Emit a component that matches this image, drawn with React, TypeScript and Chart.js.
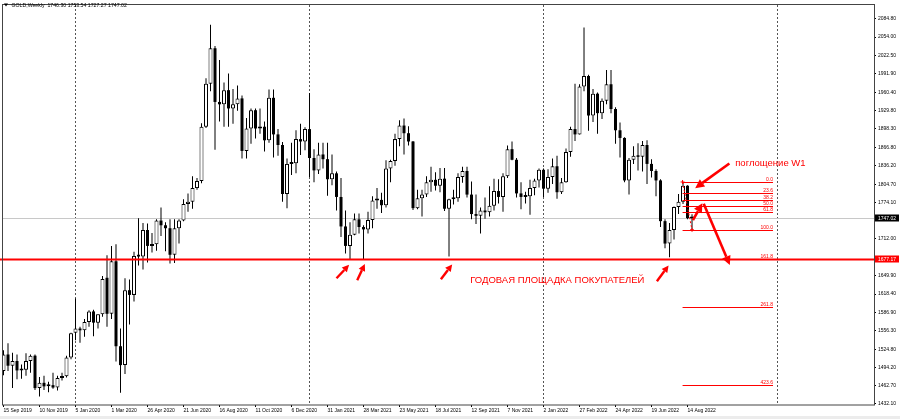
import React, { useEffect, useRef } from "react";
import { Chart, registerables } from "chart.js";

Chart.register(...registerables);

// ---- weekly OHLC, GOLD, from week of 15 Sep 2019 (index 0) to 21 Aug 2022 (index 153)
const opens = [
  1488, 1516, 1497, 1505, 1489, 1490, 1505, 1514, 1459, 1468, 1462, 1464, 1460, 1476, 1479, 1511,
  1553, 1560, 1557, 1571, 1589, 1570, 1584, 1646, 1585, 1674, 1530, 1498, 1625, 1617, 1685, 1682,
  1727, 1700, 1703, 1743, 1735, 1730, 1685, 1730, 1743, 1771, 1775, 1798, 1810, 1902, 1975, 2035,
  1944, 1940, 1964, 1933, 1940, 1950, 1861, 1899, 1930, 1899, 1902, 1879, 1951, 1889, 1871, 1788,
  1839, 1840, 1881, 1877, 1898, 1849, 1828, 1855, 1847, 1813, 1823, 1783, 1733, 1700, 1719, 1745,
  1732, 1728, 1744, 1777, 1778, 1769, 1831, 1844, 1881, 1904, 1891, 1877, 1764, 1781, 1787, 1808,
  1812, 1802, 1814, 1763, 1779, 1781, 1817, 1827, 1787, 1754, 1751, 1760, 1757, 1768, 1793, 1783,
  1818, 1864, 1846, 1789, 1783, 1784, 1798, 1811, 1829, 1797, 1817, 1835, 1791, 1808, 1859, 1898,
  1889, 1970, 1988, 1921, 1958, 1925, 1946, 1974, 1932, 1896, 1883, 1811, 1846, 1853, 1851, 1871,
  1839, 1827, 1811, 1742, 1704, 1727, 1766, 1775, 1802, 1746.3,
];
const highs = [
  1523, 1535, 1519, 1516, 1499, 1518, 1516, 1516, 1478, 1480, 1470, 1485, 1480, 1485, 1514, 1553,
  1611, 1563, 1576, 1591, 1592, 1584, 1649, 1684, 1700, 1703, 1560, 1645, 1643, 1690, 1747, 1739,
  1738, 1722, 1745, 1765, 1740, 1745, 1745, 1745, 1779, 1789, 1818, 1815, 1908, 1984, 2075, 2039,
  2015, 1977, 1992, 1966, 1972, 1955, 1917, 1933, 1933, 1933, 1911, 1965, 1965, 1898, 1876, 1848,
  1875, 1896, 1907, 1901, 1959, 1864, 1875, 1875, 1875, 1855, 1826, 1815, 1760, 1740, 1755, 1755,
  1735, 1758, 1784, 1798, 1790, 1845, 1846, 1890, 1913, 1916, 1903, 1878, 1795, 1795, 1818, 1834,
  1825, 1832, 1832, 1780, 1795, 1823, 1834, 1834, 1809, 1787, 1765, 1782, 1801, 1814, 1813, 1823,
  1870, 1877, 1849, 1808, 1792, 1812, 1814, 1831, 1831, 1830, 1848, 1853, 1815, 1865, 1902, 1975,
  1974, 2070, 1990, 1966, 1960, 1950, 1998, 1998, 1935, 1909, 1884, 1849, 1869, 1874, 1878, 1879,
  1847, 1830, 1813, 1745, 1739, 1767, 1788, 1808.33, 1803, 1753.54,
];
const lows = [
  1481, 1488, 1459, 1474, 1475, 1480, 1485, 1456, 1445, 1456, 1452, 1458, 1455, 1472, 1477, 1508,
  1540, 1536, 1546, 1563, 1547, 1560, 1580, 1563, 1576, 1504, 1451, 1483, 1567, 1606, 1667, 1660,
  1672, 1689, 1692, 1717, 1691, 1670, 1671, 1704, 1742, 1758, 1763, 1795, 1806, 1900, 1962, 1863,
  1911, 1902, 1902, 1907, 1929, 1848, 1848, 1873, 1882, 1890, 1860, 1875, 1850, 1853, 1775, 1764,
  1820, 1823, 1854, 1862, 1817, 1808, 1822, 1831, 1785, 1803, 1760, 1715, 1687, 1676, 1718, 1721,
  1677, 1721, 1730, 1763, 1756, 1765, 1808, 1836, 1869, 1855, 1870, 1761, 1762, 1750, 1783, 1792,
  1794, 1791, 1759, 1682, 1770, 1775, 1807, 1782, 1745, 1737, 1721, 1746, 1750, 1760, 1772, 1758,
  1815, 1845, 1782, 1762, 1772, 1753, 1786, 1799, 1783, 1790, 1805, 1780, 1788, 1807, 1851, 1878,
  1889, 1962, 1895, 1910, 1890, 1915, 1940, 1925, 1873, 1850, 1808, 1787, 1839, 1828, 1826, 1805,
  1816, 1784, 1732, 1696, 1681, 1711, 1754, 1771, 1745, 1727.27,
];
const closes = [
  1516, 1497, 1505, 1489, 1490, 1505, 1514, 1459, 1468, 1462, 1464, 1460, 1476, 1479, 1511, 1552,
  1560, 1557, 1571, 1589, 1570, 1584, 1644, 1585, 1674, 1530, 1498, 1625, 1617, 1683, 1682, 1727,
  1700, 1703, 1743, 1735, 1730, 1685, 1730, 1743, 1771, 1775, 1798, 1810, 1902, 1975, 2035, 1944,
  1940, 1964, 1933, 1940, 1950, 1861, 1899, 1930, 1899, 1902, 1879, 1951, 1889, 1871, 1788, 1839,
  1840, 1881, 1877, 1898, 1849, 1828, 1855, 1847, 1813, 1823, 1783, 1733, 1700, 1719, 1745, 1732,
  1728, 1744, 1777, 1778, 1769, 1831, 1844, 1881, 1904, 1891, 1877, 1764, 1781, 1787, 1808, 1812,
  1802, 1814, 1763, 1779, 1781, 1817, 1827, 1787, 1754, 1751, 1760, 1757, 1768, 1793, 1783, 1818,
  1864, 1846, 1789, 1783, 1784, 1798, 1811, 1829, 1797, 1817, 1835, 1791, 1808, 1859, 1898, 1889,
  1970, 1988, 1921, 1958, 1925, 1946, 1974, 1932, 1896, 1883, 1811, 1846, 1853, 1851, 1871, 1839,
  1827, 1811, 1742, 1704, 1727, 1766, 1775, 1802, 1747, 1747.02,
];

// ---- axis labels
const xTickLabels = [
  "15 Sep 2019", "10 Nov 2019", "5 Jan 2020", "1 Mar 2020", "26 Apr 2020", "21 Jun 2020",
  "16 Aug 2020", "11 Oct 2020", "6 Dec 2020", "31 Jan 2021", "28 Mar 2021", "23 May 2021",
  "18 Jul 2021", "12 Sep 2021", "7 Nov 2021", "2 Jan 2022", "27 Feb 2022", "24 Apr 2022",
  "19 Jun 2022", "14 Aug 2022",
];
const xTickStep = 8; // weeks between date labels
const yTickValues = [
  2084.8, 2054.0, 2022.5, 1991.9, 1960.4, 1929.8, 1898.3, 1866.8, 1836.2, 1804.7, 1774.1,
  1712.0, 1649.9, 1618.4, 1586.9, 1556.3, 1524.8, 1494.2, 1462.7, 1432.1,
];
const yearSeparators = [16, 68, 120, 172]; // first weekly bar of each year

// ---- annotations (in week-index / price coordinates)
const headerText = "GOLD,Weekly  1746.30 1753.54 1727.27 1747.02";
const lastPrice = 1747.02;
const supportPrice = 1677.17;
const fibHigh = 1808.33;
const fibLow = 1727.27;
const fibLevels = [0, 23.6, 38.2, 50, 61.8, 100, 161.8, 261.8, 423.6];
const fibRange = [150.9, 171.0];
const fibAnchors = [[150.9, 1808.33], [153.0, 1727.27]];
const arrowsSmall = [
  [[74.0, 1645.2], [76.8, 1667.9]],
  [[78.6, 1641.9], [80.3, 1669.5]],
  [[97.2, 1643.5], [99.7, 1668.7]],
  [[145.2, 1640.2], [147.8, 1667.0]],
];
const arrowsBig = [
  [[161.3, 1839.8], [153.7, 1797.9]],
  [[153.2, 1743.7], [155.3, 1772.5]],
  [[155.6, 1771.5], [161.4, 1667.5]],
];
const notes = [
  { text: "поглощение W1", at: [162.6, 1839.8] },
  { text: "ГОДОВАЯ ПЛОЩАДКА ПОКУПАТЕЛЕЙ", at: [103.7, 1641.9] },
];

const X_MIN = -1 / 3;
const X_MAX = 193.44;
const Y_MIN = 1430.4;
const Y_MAX = 2108.3;
const FONT = "'Liberation Sans', Arial, sans-serif";
const RED = "#ff0000";

function drawArrow(ctx: CanvasRenderingContext2D, x1: number, y1: number, x2: number, y2: number, head: number, width: number, lw: number) {
  const a = Math.atan2(y2 - y1, x2 - x1);
  const bx = x2 - head * Math.cos(a);
  const by = y2 - head * Math.sin(a);
  ctx.lineWidth = lw;
  ctx.beginPath();
  ctx.moveTo(x1, y1);
  ctx.lineTo(bx, by);
  ctx.stroke();
  ctx.beginPath();
  ctx.moveTo(x2, y2);
  ctx.lineTo(bx + (width / 2) * Math.sin(a), by - (width / 2) * Math.cos(a));
  ctx.lineTo(bx - (width / 2) * Math.sin(a), by + (width / 2) * Math.cos(a));
  ctx.closePath();
  ctx.fill();
}

const overlay = {
  id: "mtOverlay",
  beforeDatasetsDraw(chart: any) {
    const { ctx, chartArea: ca, scales } = chart;
    const x = scales.x, y = scales.y;
    ctx.save();
    ctx.strokeStyle = "#555";
    ctx.lineWidth = 1;
    ctx.setLineDash([2, 2]);
    yearSeparators.forEach((i) => {
      const px = Math.floor(x.getPixelForValue(i)) + 0.5;
      ctx.beginPath();
      ctx.moveTo(px, ca.top);
      ctx.lineTo(px, ca.bottom);
      ctx.stroke();
    });
    ctx.setLineDash([]);
    const py = Math.round(y.getPixelForValue(lastPrice)) + 0.5;
    ctx.strokeStyle = "#c8c8c8";
    ctx.beginPath();
    ctx.moveTo(ca.left, py);
    ctx.lineTo(ca.right, py);
    ctx.stroke();
    ctx.restore();
  },
  afterDatasetsDraw(chart: any) {
    const { ctx, chartArea: ca, scales } = chart;
    const x = scales.x, y = scales.y;
    ctx.save();
    ctx.strokeStyle = RED;
    ctx.fillStyle = RED;
    const sy = y.getPixelForValue(supportPrice);
    ctx.lineWidth = 2;
    ctx.beginPath();
    ctx.moveTo(0, sy);
    ctx.lineTo(ca.right, sy);
    ctx.stroke();
    const fx1 = x.getPixelForValue(fibRange[0]);
    const fx2 = x.getPixelForValue(fibRange[1]);
    ctx.lineWidth = 1;
    ctx.font = `5px ${FONT}`;
    ctx.textAlign = "right";
    ctx.textBaseline = "bottom";
    fibLevels.forEach((lv) => {
      const p = fibHigh - (lv / 100) * (fibHigh - fibLow);
      const ly = Math.round(y.getPixelForValue(p)) + 0.5;
      ctx.beginPath();
      ctx.moveTo(fx1, ly);
      ctx.lineTo(fx2, ly);
      ctx.stroke();
      ctx.fillText(lv.toFixed(1), fx2, ly - 0.5);
    });
    const [a0, a1] = fibAnchors;
    ctx.setLineDash([2, 2]);
    ctx.beginPath();
    ctx.moveTo(x.getPixelForValue(a0[0]), y.getPixelForValue(a0[1]));
    ctx.lineTo(x.getPixelForValue(a1[0]), y.getPixelForValue(a1[1]));
    ctx.stroke();
    ctx.setLineDash([]);
    fibAnchors.forEach(([i, p]) => {
      const ax = x.getPixelForValue(i), ay = y.getPixelForValue(p);
      ctx.beginPath();
      ctx.moveTo(ax - 2, ay); ctx.lineTo(ax + 2, ay);
      ctx.moveTo(ax, ay - 2); ctx.lineTo(ax, ay + 2);
      ctx.stroke();
    });
    arrowsSmall.forEach(([f, t]) => {
      drawArrow(ctx, x.getPixelForValue(f[0]), y.getPixelForValue(f[1]), x.getPixelForValue(t[0]), y.getPixelForValue(t[1]), 7, 7, 2.4);
    });
    arrowsBig.forEach(([f, t]) => {
      drawArrow(ctx, x.getPixelForValue(f[0]), y.getPixelForValue(f[1]), x.getPixelForValue(t[0]), y.getPixelForValue(t[1]), 9, 9, 2.6);
    });
    ctx.font = `9.5px ${FONT}`;
    ctx.textAlign = "left";
    ctx.textBaseline = "middle";
    notes.forEach((n) => {
      ctx.fillText(n.text, x.getPixelForValue(n.at[0]), y.getPixelForValue(n.at[1]));
    });
    ctx.restore();
  },
  afterDraw(chart: any) {
    const { ctx, chartArea: ca, scales, width, height } = chart;
    const y = scales.y;
    ctx.save();
    ctx.strokeStyle = "#444";
    ctx.lineWidth = 1;
    ctx.strokeRect(ca.left + 0.5, ca.top - 0.5, ca.right - ca.left, ca.bottom - ca.top + 0.5);
    ctx.fillStyle = "#ececec";
    ctx.fillRect(0, height - 3, width, 3);
    ctx.font = `5px ${FONT}`;
    ctx.textAlign = "left";
    ctx.textBaseline = "middle";
    const boxes: [number, string][] = [[lastPrice, "#000"], [supportPrice, RED]];
    boxes.forEach(([p, c]) => {
      const by = y.getPixelForValue(p);
      ctx.fillStyle = c;
      ctx.fillRect(ca.right + 1, Math.round(by) - 3.5, width - ca.right - 2, 7);
      ctx.fillStyle = "#fff";
      ctx.fillText(p.toFixed(2), ca.right + 4, by + 0.5);
    });
    ctx.fillStyle = "#000";
    ctx.beginPath();
    ctx.moveTo(4, 3.5); ctx.lineTo(8, 3.5); ctx.lineTo(6, 6.5);
    ctx.closePath();
    ctx.fill();
    ctx.font = `5.2px ${FONT}`;
    ctx.textBaseline = "middle";
    ctx.fillText(headerText, 11.5, 5.5);
    ctx.restore();
  },
};

export default function App() {
  const ref = useRef<HTMLCanvasElement | null>(null);
  useEffect(() => {
    if (!ref.current) return;
    const bullBodies: any[] = [];
    const bearBodies: any[] = [];
    opens.forEach((o, i) => {
      const pt = { x: i, y: [o, closes[i]] };
      if (closes[i] >= o) bullBodies.push(pt);
      else bearBodies.push(pt);
    });
    const wicks = lows.map((l, i) => ({ x: i, y: [l, highs[i]] }));
    const chart = new Chart(ref.current, {
      type: "bar",
      data: {
        datasets: [
          {
            label: "bull",
            data: bullBodies,
            order: 0,
            barThickness: 4,
            grouped: false,
            minBarLength: 2,
            inflateAmount: 0,
            borderSkipped: false,
            borderWidth: 1,
            borderColor: "#000",
            backgroundColor: "#ffffff",
          } as any,
          {
            label: "bear",
            data: bearBodies,
            order: 0,
            barThickness: 3,
            grouped: false,
            minBarLength: 1.5,
            inflateAmount: 0,
            borderSkipped: false,
            borderWidth: 0,
            backgroundColor: "#000000",
          } as any,
          {
            label: "wick",
            data: wicks as any,
            order: 1,
            barThickness: 1,
            grouped: false,
            inflateAmount: 0,
            borderWidth: 0,
            backgroundColor: "#000",
          } as any,
        ],
      },
      options: {
        responsive: false,
        animation: false,
        events: [],
        layout: { padding: { left: 2, top: 1, right: 0, bottom: 0 }, autoPadding: false } as any,
        plugins: { legend: { display: false }, tooltip: { enabled: false } },
        scales: {
          x: {
            type: "linear",
            min: X_MIN,
            max: X_MAX,
            offset: false,
            bounds: "data",
            afterBuildTicks: (s: any) => {
              s.ticks = xTickLabels.map((_, k) => ({ value: k * xTickStep }));
            },
            afterFit: (s: any) => {
              s.height = 14;
            },
            grid: { drawOnChartArea: false, drawTicks: true, tickLength: 2, color: "#000", offset: false },
            border: { display: false },
            ticks: {
              autoSkip: false,
              maxRotation: 0,
              minRotation: 0,
              align: "start",
              padding: 1,
              color: "#000",
              font: { family: FONT, size: 5 },
              callback: (_v: any, idx: number) => xTickLabels[idx],
            },
          } as any,
          y: {
            type: "linear",
            position: "right",
            min: Y_MIN,
            max: Y_MAX,
            bounds: "data",
            afterBuildTicks: (s: any) => {
              s.ticks = yTickValues.map((v) => ({ value: v }));
            },
            afterFit: (s: any) => {
              s.width = 26;
            },
            grid: { drawOnChartArea: false, drawTicks: true, tickLength: 2, color: "#000" },
            border: { display: false },
            ticks: {
              autoSkip: false,
              padding: 2,
              color: "#000",
              font: { family: FONT, size: 5 },
              callback: (v: any) => Number(v).toFixed(2),
            },
          } as any,
        },
      },
      plugins: [overlay as any],
    });
    return () => chart.destroy();
  }, []);
  return (
    <div style={{ position: "absolute", left: 0, top: 0, width: 900, height: 419, background: "#fff" }}>
      <canvas ref={ref} width={900} height={419} style={{ width: 900, height: 419, display: "block" }} />
    </div>
  );
}
